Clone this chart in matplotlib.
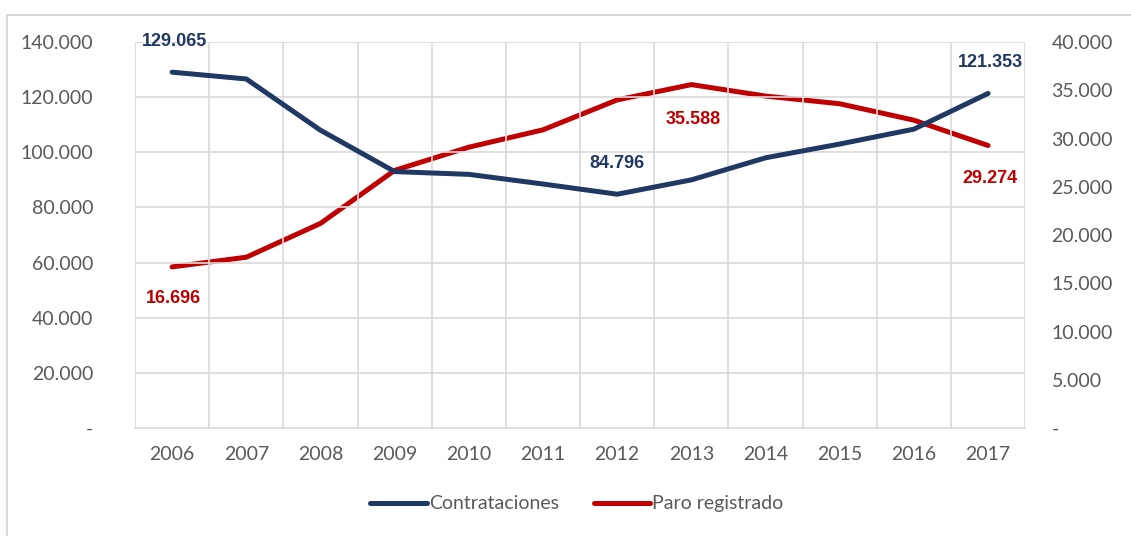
import matplotlib

matplotlib.use("Agg")
import matplotlib.pyplot as plt  # noqa: E402
import numpy as np  # noqa: E402
from matplotlib.patches import Rectangle  # noqa: E402

# Data
years = ["2006", "2007", "2008", "2009", "2010", "2011",
         "2012", "2013", "2014", "2015", "2016", "2017"]
contrataciones = [129065, 126600, 108000, 93000, 92000, 88500,
                  84796, 90000, 98000, 103000, 108400, 121353]
paro = [16696, 17700, 21200, 26700, 29100, 30900,
        34000, 35588, 34400, 33600, 31900, 29274]
left_ticks = [0, 20000, 40000, 60000, 80000, 100000, 120000, 140000]
right_ticks = [0, 5000, 10000, 15000, 20000, 25000, 30000, 35000, 40000]

BLUE = "#203864"
RED = "#C00000"
GRAY = "#595959"
GRID = "#D9D9D9"

plt.rcParams["font.family"] = ["Lato", "DejaVu Sans"]


def fmt(v):
    return "-" if v == 0 else f"{v:,.0f}".replace(",", ".")


fig = plt.figure(figsize=(11.31, 5.36), dpi=100)
# chart frame: left and top edges visible, right/bottom run off the image
fig.patches.append(Rectangle((0.0065, -0.05), 1.05, 1.022,
                             transform=fig.transFigure, fill=False,
                             edgecolor=GRID, lw=1.5))
ax = fig.add_axes([0.1194, 0.2015, 0.787, 0.7201])
ax2 = ax.twinx()

x = np.arange(len(years))
ax.plot(x, contrataciones, color=BLUE, lw=3.6, solid_capstyle="round",
        label="Contrataciones", zorder=3)
ax2.plot(x, paro, color=RED, lw=3.6, solid_capstyle="round",
         label="Paro registrado", zorder=3)

ax.set_xlim(-0.5, len(years) - 0.5)
ax.set_ylim(0, 140000)
ax2.set_ylim(0, 40000)
ax.set_yticks(left_ticks)
ax.set_yticklabels([fmt(v) for v in left_ticks])
ax2.set_yticks(right_ticks)
ax2.set_yticklabels([fmt(v) for v in right_ticks])
ax.set_xticks(x)
ax.set_xticklabels(years)

# grid: horizontal at left ticks, vertical at category boundaries
for v in left_ticks[1:]:
    ax.axhline(v, color=GRID, lw=1.2, zorder=0)
for b in np.arange(-0.5, len(years), 1.0):
    ax.axvline(b, color=GRID, lw=1.2, zorder=0)

for a in (ax, ax2):
    for s in a.spines.values():
        s.set_visible(False)
    a.tick_params(length=0, labelsize=14, colors=GRAY)
ax.spines["bottom"].set_visible(True)
ax.spines["bottom"].set_color(GRID)
ax.spines["bottom"].set_linewidth(1.2)
ax.tick_params(axis="x", pad=13)
ax.tick_params(axis="y", pad=30)
ax2.tick_params(axis="y", pad=19)
ax.set_zorder(ax2.get_zorder() + 1)
ax.patch.set_visible(False)

# data labels
lab = dict(fontsize=13, fontweight="bold", ha="center", va="center",
           textcoords="offset points", family=["Liberation Sans", "DejaVu Sans"])
ax.annotate(fmt(contrataciones[0]), (0, contrataciones[0]), xytext=(2, 22),
            color=BLUE, **lab)
ax.annotate(fmt(contrataciones[6]), (6, contrataciones[6]), xytext=(0, 22),
            color=BLUE, **lab)
ax.annotate(fmt(contrataciones[11]), (11, contrataciones[11]), xytext=(2, 22),
            color=BLUE, **lab)
ax2.annotate(fmt(paro[0]), (0, paro[0]), xytext=(1, -23), color=RED, **lab)
ax2.annotate(fmt(paro[7]), (7, paro[7]), xytext=(1, -25), color=RED, **lab)
ax2.annotate(fmt(paro[11]), (11, paro[11]), xytext=(1, -24), color=RED, **lab)

h1, l1 = ax.get_legend_handles_labels()
h2, l2 = ax2.get_legend_handles_labels()
fig.legend(h1 + h2, l1 + l2, loc="center", bbox_to_anchor=(0.51, 0.06),
           ncol=2, frameon=False, fontsize=14, labelcolor=GRAY,
           handlelength=2.9, handletextpad=0.1, columnspacing=1.8)

fig.savefig("out.png", dpi=100)
